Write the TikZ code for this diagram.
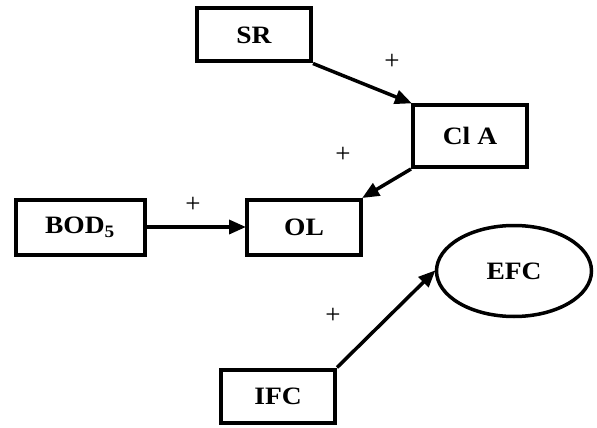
\documentclass[tikz,border=0pt]{standalone}
\usepackage{fontspec}
\setmainfont{Liberation Serif}
\usetikzlibrary{arrows.meta,shapes.geometric}

\newcommand{\wide}[1]{\scalebox{1.1}[1]{#1}}

\begin{document}
\begin{tikzpicture}[x=1pt,y=-1pt,>={Triangle[length=17pt,width=14pt]},
  var/.style={draw,line width=4pt,minimum width=114pt,minimum height=53pt,
              inner sep=2pt,font=\fontsize{25}{30}\selectfont\bfseries},
  link/.style={->,line width=3.5pt,shorten >=-1pt},
  sign/.style={font=\fontsize{27}{30}\selectfont}]
  \useasboundingbox (0,0) rectangle (597,428);
  \node[var] (sr) at (254,35) {\wide{SR}};
  \node[var,minimum height=62pt] (cla) at (470,136) {\wide{Cl A}};
  \node[var,minimum width=129pt,minimum height=55pt] (bod) at (80,227) {\wide{BOD\textsubscript{5}}};
  \node[var,minimum height=55pt] (ol) at (304,227) {\wide{OL}};
  \node[var] (ifc) at (278,396) {\wide{IFC}};
  \node[ellipse,draw,line width=3.5pt,minimum width=155pt,minimum height=91pt,
        font=\fontsize{25}{30}\selectfont\bfseries] (efc) at (514,271) {\wide{EFC}};
  \draw[link] (sr.south east) -- (cla.north west);
  \draw[link] (cla.south west) -- (ol.north east);
  \draw[link] (bod.east) -- (ol.west);
  \draw[link] (ifc.north east) -- (efc.west);
  \node[sign] (p1) at (392,62) {+};
  \node[sign] (p2) at (343,155) {+};
  \node[sign] (p3) at (193,205) {+};
  \node[sign] (p4) at (333,316) {+};
\end{tikzpicture}
\end{document}
